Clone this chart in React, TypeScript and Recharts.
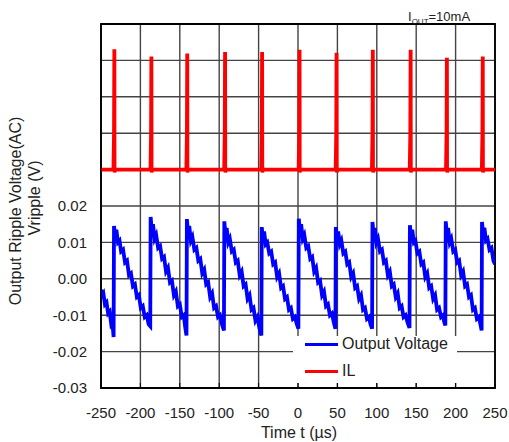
import React from "react";
import {
  LineChart,
  Line,
  XAxis,
  YAxis,
  CartesianGrid,
  ReferenceArea,
} from "recharts";

const FONT = "'Liberation Sans', Arial, sans-serif";

// axis ticks
const timeTicks = [-250, -200, -150, -100, -50, 0, 50, 100, 150, 200, 250];
const rippleTicks = [-0.03, -0.02, -0.01, 0, 0.01, 0.02, 0.03, 0.04, 0.05, 0.06, 0.07];
const ilTicks = [0, 0.5, 1, 1.5, 2];

// output ripple voltage [time µs, volts]
const outputVoltage: [number, number][] = [
  [-250, -0.003], [-248.5, -0.0045], [-247, -0.004], [-245, -0.007], [-243, -0.0065],
  [-241, -0.0095], [-239, -0.009], [-237, -0.0125], [-235.5, -0.012], [-234, -0.016],
  // cycle
  [-233.5, 0.0145], [-232, 0.0115], [-230.5, 0.0135], [-228.5, 0.01], [-226.5, 0.0105],
  [-224.5, 0.0075], [-222, 0.008], [-219.5, 0.0045], [-217, 0.005], [-214.5, 0.001],
  [-212, 0.0015], [-209.5, -0.002], [-207, -0.0015], [-204.5, -0.005], [-202, -0.0045],
  [-199.5, -0.008], [-197, -0.0075], [-194.5, -0.0105], [-192, -0.01], [-189.5, -0.0125],
  [-187.5, -0.013],
  // cycle
  [-187, 0.017], [-185.5, 0.013], [-184, 0.015], [-182, 0.011], [-180, 0.012],
  [-177.5, 0.0085], [-175, 0.009], [-172.5, 0.0055], [-170, 0.006], [-167.5, 0.002],
  [-165, 0.003], [-162.5, -0.001], [-160, -0.0005], [-157.5, -0.0045], [-155, -0.0035],
  [-152.5, -0.0075], [-150, -0.007], [-147.5, -0.0105], [-145, -0.01], [-143, -0.0135],
  [-141.5, -0.0156],
  // cycle
  [-141, 0.0164], [-139.5, 0.0125], [-138, 0.0145], [-136, 0.0105], [-134, 0.0115],
  [-131.5, 0.008], [-129, 0.0085], [-126.5, 0.005], [-124, 0.0055], [-121.5, 0.0015],
  [-119, 0.0025], [-116.5, -0.0015], [-114, -0.001], [-111.5, -0.005], [-109, -0.004],
  [-106.5, -0.008], [-104, -0.0075], [-101.5, -0.0105], [-99, -0.01], [-96.5, -0.0125],
  [-94, -0.0142],
  // cycle
  [-93.5, 0.0158], [-92, 0.012], [-90.5, 0.014], [-88.5, 0.01], [-86.5, 0.011],
  [-84, 0.0075], [-81.5, 0.008], [-79, 0.0045], [-76.5, 0.005], [-74, 0.001],
  [-71.5, 0.002], [-69, -0.002], [-66.5, -0.0015], [-64, -0.0055], [-61.5, -0.0045],
  [-59, -0.0085], [-56.5, -0.008], [-54, -0.0115], [-51.5, -0.0105], [-49, -0.0135],
  [-46.5, -0.0156],
  // cycle
  [-46, 0.0142], [-44.5, 0.011], [-43, 0.013], [-41, 0.0095], [-39, 0.01],
  [-36.5, 0.007], [-34, 0.0075], [-31.5, 0.004], [-29, 0.0045], [-26.5, 0.0005],
  [-24, 0.0015], [-21.5, -0.0025], [-19, -0.002], [-16.5, -0.0055], [-14, -0.005],
  [-11.5, -0.0085], [-9, -0.008], [-6.5, -0.011], [-4, -0.0105], [-1.5, -0.0125],
  [0.5, -0.0137],
  // cycle
  [1, 0.0165], [2.5, 0.013], [4, 0.015], [6, 0.011], [8, 0.012],
  [10.5, 0.0085], [13, 0.009], [15.5, 0.0055], [18, 0.006], [20.5, 0.002],
  [23, 0.003], [25.5, -0.001], [28, -0.0005], [30.5, -0.0045], [33, -0.0035],
  [35.5, -0.0075], [38, -0.007], [40.5, -0.01], [43, -0.0095], [45.5, -0.012],
  [47.5, -0.0137],
  // cycle
  [48, 0.0142], [49.5, 0.011], [51, 0.013], [53, 0.0095], [55, 0.0105],
  [57.5, 0.007], [60, 0.0075], [62.5, 0.004], [65, 0.0045], [67.5, 0.0005],
  [70, 0.0015], [72.5, -0.0025], [75, -0.002], [77.5, -0.0055], [80, -0.0045],
  [82.5, -0.0085], [85, -0.008], [87.5, -0.011], [90, -0.0105], [92, -0.0125],
  [94, -0.0137],
  // cycle
  [94.5, 0.0156], [96, 0.012], [97.5, 0.014], [99.5, 0.01], [101.5, 0.011],
  [104, 0.0075], [106.5, 0.008], [109, 0.0045], [111.5, 0.005], [114, 0.001],
  [116.5, 0.002], [119, -0.002], [121.5, -0.0015], [124, -0.005], [126.5, -0.004],
  [129, -0.008], [131.5, -0.0075], [134, -0.0105], [136.5, -0.01], [139, -0.012],
  [141.5, -0.0135],
  // cycle
  [142, 0.0147], [143.5, 0.0115], [145, 0.0135], [147, 0.01], [149, 0.0105],
  [151.5, 0.007], [154, 0.0075], [156.5, 0.004], [159, 0.0045], [161.5, 0.0005],
  [164, 0.0015], [166.5, -0.0025], [169, -0.002], [171.5, -0.0055], [174, -0.0045],
  [176.5, -0.0085], [179, -0.008], [181.5, -0.0105], [184, -0.01], [185.5, -0.0118],
  [187, -0.0128],
  // cycle
  [187.5, 0.0158], [189, 0.012], [190.5, 0.014], [192.5, 0.01], [194.5, 0.011],
  [197, 0.0075], [199.5, 0.008], [202, 0.0045], [204.5, 0.005], [207, 0.001],
  [209.5, 0.002], [212, -0.002], [214.5, -0.0015], [217, -0.005], [219.5, -0.0045],
  [222, -0.0085], [224.5, -0.008], [227, -0.011], [229.5, -0.0105], [231.5, -0.0125],
  [233, -0.0142],
  // last partial cycle
  [233.5, 0.0156], [235, 0.012], [236.5, 0.014], [238.5, 0.0105], [240.5, 0.011],
  [243, 0.008], [245.5, 0.0085], [248, 0.005], [250, 0.004],
];

// inductor current IL [time µs, amps], right axis
const inductorCurrent: [number, number][] = [
  [-250, 0],
  [-234.3, 0], [-233.6, 0.5], [-233.2, 1.63], [-232.9, 1.63], [-232.7, -0.04], [-232.3, 0],
  [-187.3, 0], [-186.6, 0.5], [-186.2, 1.53], [-185.9, 1.53], [-185.7, -0.04], [-185.3, 0],
  [-141.8, 0], [-141.1, 0.5], [-140.7, 1.57], [-140.4, 1.57], [-140.2, -0.04], [-139.8, 0],
  [-93.8, 0], [-93.1, 0.5], [-92.7, 1.59], [-92.4, 1.59], [-92.2, -0.04], [-91.8, 0],
  [-46.8, 0], [-46.1, 0.5], [-45.7, 1.59], [-45.4, 1.59], [-45.2, -0.04], [-44.8, 0],
  [0.7, 0], [1.4, 0.5], [1.8, 1.62], [2.1, 1.62], [2.3, -0.04], [2.7, 0],
  [47.7, 0], [48.4, 0.5], [48.8, 1.58], [49.1, 1.58], [49.3, -0.04], [49.7, 0],
  [93.7, 0], [94.4, 0.5], [94.8, 1.62], [95.1, 1.62], [95.3, -0.04], [95.7, 0],
  [141.7, 0], [142.4, 0.5], [142.8, 1.62], [143.1, 1.62], [143.3, -0.04], [143.7, 0],
  [187.7, 0], [188.4, 0.5], [188.8, 1.51], [189.1, 1.51], [189.3, -0.04], [189.7, 0],
  [233.2, 0], [233.9, 0.5], [234.3, 1.53], [234.6, 1.53], [234.8, -0.04], [235.2, 0],
  [251, 0],
];

const rippleData = outputVoltage.map(([t, v]) => ({ t, v }));
const ilData = inductorCurrent.map(([t, il]) => ({ t, il }));

const YTitle = () => (
  <g fontFamily={FONT} fontSize={16} fill="#222">
    <text transform="translate(12.5,203) rotate(-90)" textAnchor="middle">
      Output Ripple Voltage(AC)
    </text>
    <text transform="translate(31.5,190) rotate(-90)" textAnchor="middle">
      Vripple (V)
    </text>
  </g>
);

const XTitle = () => (
  <text x={291} y={430} textAnchor="middle" fontFamily={FONT} fontSize={16} fill="#222">
    Time t (µs)
  </text>
);

const IoutNote = () => (
  <text x={400} y={13} fontFamily={FONT} fontSize={13} fill="#222">
    I
    <tspan fontSize={8} dy={3}>OUT</tspan>
    <tspan dy={-3}>=10mA</tspan>
  </text>
);

const tickStyle = { fontFamily: FONT, fontSize: 15, fill: "#222" };

export default function App() {
  return (
    // body margin removed so the page box spans the full 509px width; the 8px offset is kept as padding
    <div style={{ position: "relative", width: 509, height: 442, fontFamily: FONT }}>
      <style>{"body{margin:0}"}</style>
      <div style={{ position: "absolute", left: 8, top: 8, width: 501, height: 434 }}>
        <LineChart width={501} height={434} margin={{ top: 16, right: 0, bottom: 0, left: 0 }}>
          <CartesianGrid stroke="#444" strokeWidth={1.4} />
          <XAxis
            type="number"
            dataKey="t"
            domain={[-250, 250]}
            ticks={timeTicks}
            interval={0}
            allowDataOverflow
            height={54}
            tick={tickStyle}
            tickSize={-5}
            tickMargin={24}
            stroke="#000"
            label={XTitle}
          />
          <YAxis
            type="number"
            domain={[-0.03, 0.07]}
            ticks={rippleTicks}
            interval={0}
            allowDataOverflow
            width={93}
            tick={tickStyle}
            tickLine={false}
            tickSize={0}
            tickMargin={14}
            stroke="#000"
            tickFormatter={(v: number) => (v > 0.025 ? "" : v.toFixed(2))}
            label={YTitle}
          />
          <YAxis
            yAxisId="il"
            orientation="right"
            type="number"
            domain={[-3, 2]}
            ticks={ilTicks}
            interval={0}
            allowDataOverflow
            width={14}
            tick={tickStyle}
            tickLine={false}
            axisLine={false}
            tickSize={0}
            tickMargin={15}
            tickFormatter={(v: number) => v.toFixed(1)}
            label={IoutNote}
          />
          <ReferenceArea
            x1={-250}
            x2={250}
            y1={-0.03}
            y2={0.07}
            fill="none"
            fillOpacity={0}
            stroke="#000"
            strokeWidth={1.8}
          />
          <Line
            data={rippleData}
            dataKey="v"
            type="linear"
            stroke="#0000ff"
            strokeWidth={3.8}
            strokeLinejoin="miter"
            dot={false}
            isAnimationActive={false}
          />
          <Line
            data={ilData}
            dataKey="il"
            yAxisId="il"
            type="linear"
            stroke="#ff0000"
            strokeWidth={3.6}
            dot={false}
            isAnimationActive={false}
          />
        </LineChart>
        <div
          style={{
            position: "absolute",
            left: 285,
            top: 328,
            width: 164,
            height: 47,
            background: "#fff",
            fontSize: 16,
            color: "#222",
          }}
        >
          <div style={{ position: "absolute", left: 12, top: 6.5, width: 33, height: 3, background: "#0000ff" }} />
          <span style={{ position: "absolute", left: 49, top: -1, lineHeight: "18px", whiteSpace: "nowrap" }}>
            Output Voltage
          </span>
          <div style={{ position: "absolute", left: 12, top: 33.5, width: 33, height: 3, background: "#ff0000" }} />
          <span style={{ position: "absolute", left: 49, top: 26, lineHeight: "18px" }}>IL</span>
        </div>
      </div>
    </div>
  );
}
